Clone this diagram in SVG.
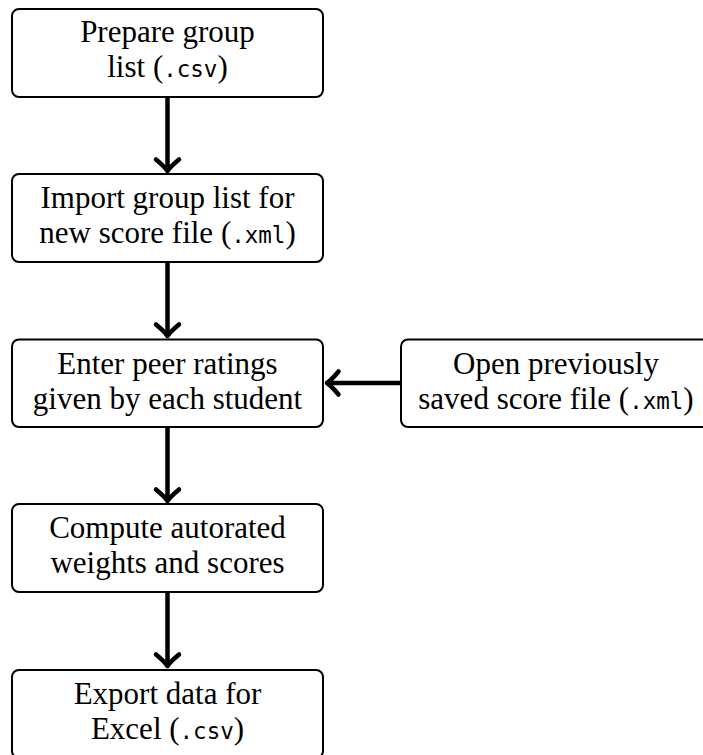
<svg xmlns="http://www.w3.org/2000/svg" width="703" height="755" viewBox="0 0 703 755">
<style>
.box{fill:#fff;stroke:#000;stroke-width:2}
.t{font-family:"Liberation Serif","Times New Roman",serif;font-size:31px;fill:#000;text-anchor:middle}
.m{font-family:"DejaVu Sans Mono","Liberation Mono",monospace;font-size:22.5px}
.conn{fill:none;stroke:#000;stroke-width:4.5}
</style>
<defs>
<marker id="ah" markerUnits="userSpaceOnUse" viewBox="-16 -16 20 32" markerWidth="20" markerHeight="32" refX="0" refY="0" orient="auto" overflow="visible">
<path d="M -11.5 -11.5 Q -4 -2.5 0 0 Q -4 2.5 -11.5 11.5" fill="none" stroke="#000" stroke-width="4.5" stroke-linecap="round" stroke-linejoin="round"/>
</marker>
</defs>
<rect width="703" height="755" fill="#fff"/>
<g id="connectors">
<path class="conn" d="M167.5 97 V171" marker-end="url(#ah)"/>
<path class="conn" d="M167.5 262 V336" marker-end="url(#ah)"/>
<path class="conn" d="M167.5 427 V501" marker-end="url(#ah)"/>
<path class="conn" d="M167.5 592 V666" marker-end="url(#ah)"/>
<path class="conn" d="M401 383 H327" marker-end="url(#ah)"/>
</g>
<g id="prepare">
<rect class="box" x="12" y="9" width="311" height="88" rx="7"/>
<text class="t" x="167.5" y="42">Prepare group</text>
<text class="t" x="167.5" y="77">list (<tspan class="m">.csv</tspan>)</text>
</g>
<g id="import">
<rect class="box" x="12" y="174" width="311" height="88" rx="7"/>
<text class="t" x="167.5" y="208">Import group list for</text>
<text class="t" x="167.5" y="243">new score file (<tspan class="m">.xml</tspan>)</text>
</g>
<g id="enter">
<rect class="box" x="12" y="339.5" width="311" height="87.5" rx="7"/>
<text class="t" x="167.5" y="373.5">Enter peer ratings</text>
<text class="t" x="167.5" y="408.5">given by each student</text>
</g>
<g id="open">
<rect class="box" x="401" y="339.5" width="311" height="87.5" rx="7"/>
<text class="t" x="556" y="373.5">Open previously</text>
<text class="t" x="556" y="408.5">saved score file (<tspan class="m">.xml</tspan>)</text>
</g>
<g id="compute">
<rect class="box" x="12" y="504" width="311" height="88" rx="7"/>
<text class="t" x="167.5" y="538">Compute autorated</text>
<text class="t" x="167.5" y="573">weights and scores</text>
</g>
<g id="export">
<rect class="box" x="12" y="670" width="311" height="88" rx="7"/>
<text class="t" x="167.5" y="704">Export data for</text>
<text class="t" x="167.5" y="739">Excel (<tspan class="m">.csv</tspan>)</text>
</g>
</svg>
